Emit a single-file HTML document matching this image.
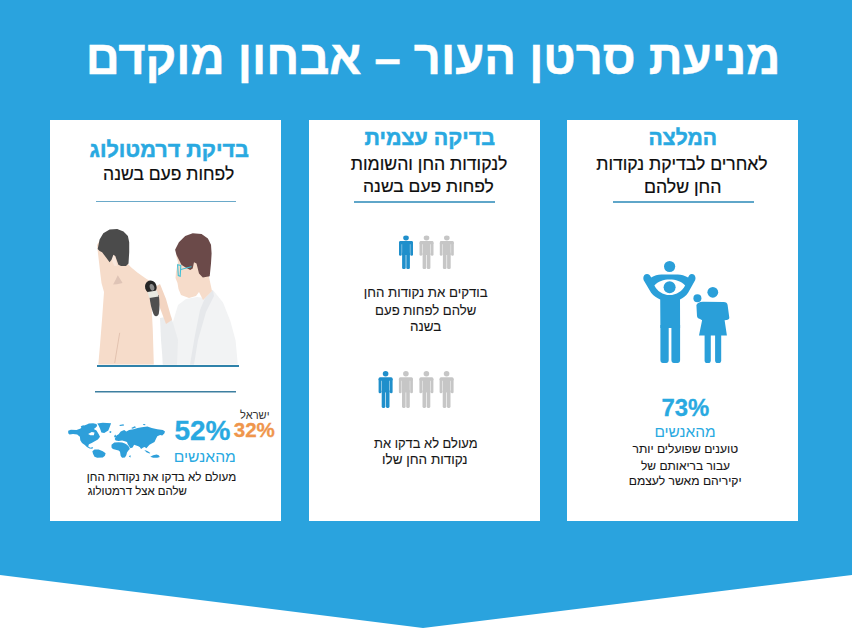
<!DOCTYPE html>
<html lang="he">
<head>
<meta charset="utf-8">
<title>מניעת סרטן העור</title>
<style>
html,body{margin:0;padding:0;}
body{width:852px;height:635px;position:relative;overflow:hidden;background:#fff;font-family:"Liberation Sans",sans-serif;}
.t{position:absolute;white-space:nowrap;line-height:1;direction:rtl;}
svg{position:absolute;left:0;top:0;}
</style>
</head>
<body>
<svg width="852" height="635" viewBox="0 0 852 635">
  <defs>
    <g id="man">
      <ellipse cx="7" cy="2.5" rx="2.8" ry="2.4"/>
      <rect x="0" y="5.6" width="14" height="3.2" rx="1.4"/>
      <rect x="0" y="6.5" width="2.7" height="13.8" rx="1.3"/>
      <rect x="11.3" y="6.5" width="2.7" height="13.8" rx="1.3"/>
      <rect x="3.1" y="6.5" width="7.8" height="13"/>
      <rect x="3.1" y="17" width="3.6" height="16.6" rx="1.3"/>
      <rect x="7.3" y="17" width="3.6" height="16.6" rx="1.3"/>
    </g>
  </defs>
  <polygon points="0,0 852,0 852,575 423,628 0,575" fill="#2AA3DE"/>
  <rect x="50" y="120" width="231" height="401" fill="#fff"/>
  <rect x="309" y="120" width="231" height="401" fill="#fff"/>
  <rect x="567" y="120" width="231" height="401" fill="#fff"/>
  <rect x="96" y="201" width="140" height="1" fill="#6aa9c9"/>
  <rect x="354" y="201" width="141" height="2" fill="#5fa6c9"/>
  <rect x="613" y="201" width="141" height="2" fill="#5fa6c9"/>
  <rect x="97" y="365" width="142" height="2" fill="#2f82aa"/>
  <rect x="95" y="391" width="141" height="1.5" fill="#3d7fa0"/>

  <!-- card 2 figures row 1 -->
  <use href="#man" transform="translate(399,235.5)" fill="#1F8FCB"/>
  <use href="#man" transform="translate(419.5,235.5)" fill="#C6C6C6"/>
  <use href="#man" transform="translate(439.8,235.5)" fill="#C6C6C6"/>
  <!-- row 2 -->
  <use href="#man" transform="translate(378.6,371) scale(1,1.1)" fill="#1F8FCB"/>
  <use href="#man" transform="translate(398.9,371) scale(1,1.1)" fill="#C6C6C6"/>
  <use href="#man" transform="translate(419.4,371) scale(1,1.1)" fill="#C6C6C6"/>
  <use href="#man" transform="translate(439.6,371) scale(1,1.1)" fill="#C6C6C6"/>

  <!-- family icon -->
  <g fill="#2A9FD9">
    <circle cx="669.6" cy="266.5" r="5.6"/>
    <path d="M643.3,278 C643.3,275.5 645,273.9 647,273.9 C649,273.9 650.5,275.5 651.1,277.4 C654.5,275.5 657.5,274.4 661.4,274.4 L677.7,274.4 C681.5,274.4 684.5,275.5 688.1,277.4 C688.7,275.5 690,273.9 691.8,273.9 C693.8,273.9 695.5,275.5 695.5,278 C695.5,279 695.3,279.6 695.1,280.2 L688.1,292.8 C686,296 683,298.3 680,299.4 L680.1,328 L660.4,328 L660.2,299.4 C657,298.3 653.5,296 651.1,292.8 L643.7,280.2 C643.5,279.6 643.3,279 643.3,278 Z"/>
    <path d="M660.4,325 L668.7,325 L668.7,360 C668.7,362 667.7,363 666.2,363 L662.9,363 C661.4,363 660.4,362 660.4,360 Z"/>
    <path d="M671.4,325 L680.1,325 L680.1,360 C680.1,362 679.1,363 677.6,363 L673.9,363 C672.4,363 671.4,362 671.4,360 Z"/>
    <!-- woman -->
    <circle cx="712.8" cy="292.3" r="5.4"/>
    <circle cx="697.4" cy="298.2" r="4"/>
    <path d="M696.4,305 C697,303 699.5,301.8 702.8,301.7 L723.7,302.1 C726,302.3 727.4,303.2 727.6,305 L729.3,317.5 C729.4,319 728.2,320 726.5,320.1 L724.6,320.2 L726.9,335.6 L699,335.6 L702.1,320.2 L700,319 C698,318.5 697.2,317.5 697,316 Z"/>
    <path d="M704.6,333 L710.8,333 L710.8,360.5 C710.8,362.2 709.8,363.1 708.3,363.1 L707.1,363.1 C705.6,363.1 704.6,362.2 704.6,360.5 Z"/>
    <path d="M715.1,333 L721.2,333 L721.2,360.5 C721.2,362.2 720.2,363.1 718.7,363.1 L717.6,363.1 C716.1,363.1 715.1,362.2 715.1,360.5 Z"/>
  </g>
  <path d="M654.4,285.4 C658,281.3 663.5,279.4 669.6,279.4 C675.7,279.4 681.5,281.3 685.1,285.4 C682.5,290.8 676.5,295 669.6,295 C662.7,295 657,290.8 654.4,285.4 Z" fill="#fff"/>
  <circle cx="669.6" cy="287.2" r="6" fill="#2A9FD9"/>
  <g fill="#2E9FDA">
<polygon points="68.2,430.8 70.9,429.8 76.5,429.9 80.6,428.4 82.0,426.3 86.9,424.6 88.9,423.5 93.1,423.2 96.5,423.9 97.2,426.0 95.2,428.0 93.8,429.1 96.5,430.5 98.6,433.9 100.0,436.7 97.9,439.5 95.2,440.9 91.7,442.9 88.9,444.3 88.2,446.4 90.3,447.8 93.1,447.1 92.4,448.8 89.6,448.5 86.9,447.1 84.8,445.0 82.0,442.9 80.3,440.2 79.9,436.7 77.2,434.6 73.0,433.9 69.5,434.6 68.2,433.2"/>
<polygon points="97.2,423.5 102.8,422.8 111.1,423.2 109.7,427.0 108.3,430.5 104.2,432.9 101.4,432.5 100.0,428.4 98.6,425.6"/>
<polygon points="92.4,451.2 94.5,449.5 98.6,449.5 102.8,451.2 105.6,453.3 104.9,455.7 102.8,457.5 97.2,457.8 94.5,456.8 93.1,454.0"/>
<polygon points="80.6,426.3 83.4,425.3 84.8,427.0 82.0,427.7"/>
<polygon points="118.6,434.2 120.7,431.4 124.2,430.0 126.3,431.4 129.1,430.0 133.4,429.3 137.6,427.9 141.8,427.2 147.4,426.5 151.7,427.9 157.3,429.3 162.9,430.0 165.0,431.4 164.3,433.5 162.2,435.6 160.1,434.9 157.3,436.3 155.9,439.1 154.5,441.9 151.7,443.4 149.5,444.8 148.1,446.2 146.4,448.3 144.6,446.9 143.2,447.6 141.1,449.0 139.7,446.9 138.3,446.2 136.2,445.5 134.1,444.8 132.6,447.6 130.5,448.3 129.1,446.2 127.7,444.1 127.0,441.9 124.9,441.2 122.1,440.5 118.6,440.9 115.7,440.5 114.7,439.1 115.7,437.0 116.5,435.6"/>
<polygon points="111.5,444.8 114.3,442.6 118.6,442.3 122.1,442.6 124.9,443.4 127.0,444.8 129.1,446.9 129.8,449.0 128.4,450.4 127.0,452.5 126.3,455.3 124.9,457.4 122.1,457.8 120.7,456.0 120.0,451.8 118.6,450.4 115.7,449.7 112.9,449.0 111.5,447.6"/>
<polygon points="150.3,456.7 153.1,455.3 156.6,454.6 158.7,455.3 159.8,457.1 157.3,457.8 153.1,457.8"/>
<polygon points="144.3,450.0 147.4,451.1 150.3,452.9 149.5,453.6 146.4,452.2"/>
<polygon points="128.8,456.4 130.4,455.0 130.7,457.4"/>
<polygon points="114.0,436.0 115.7,434.5 116.1,437.0 114.7,437.4"/>
<polygon points="119.3,425.0 123.5,424.2 124.1,425.5 120.0,425.9"/>
<polygon points="131.2,427.9 134.8,426.3 136.2,427.2 132.6,428.7"/>
<polygon points="142.9,424.2 145.3,424.0 145.2,425.2 143.2,425.0"/>
<polygon points="109.4,431.4 111.2,431.0 111.2,432.8 109.8,432.9"/>
<polygon fill="#fff" points="88.2,433.9 91.7,431.9 94.5,432.5 93.8,435.3 90.3,435.3"/>

  </g>
  <g id="doctor">
    <!-- patient skin -->
    <polygon fill="#F6DCCA" points="97,245 99,262 100.5,275 101.5,283 104,292 102,320 100,345 98.3,364.5 153.8,364.5 152.8,330 151.5,305 156,290 152.5,282.5 146.2,278.7 137.3,272.4 131,267.3 127,263 122,250 118,245 110,240 100,240"/>
    <polygon fill="#DFC4B6" points="117.8,275.2 122.6,283.1 117,284.2 113.1,284.6 116,279"/>
    <polygon fill="#F9E7DC" points="111.5,256 113.5,254.5 115.5,258 117,265.7 114.5,266 112.5,262"/>
    <line x1="114.7" y1="363" x2="119.7" y2="332.8" stroke="#DDBBA8" stroke-width="0.8"/>
    <!-- patient hair -->
    <polygon fill="#4B4B4B" points="97.7,249.1 99.6,239.6 103.3,233.3 109.6,229.6 117.2,228.9 123.5,231.4 127.9,235.9 129.2,242.2 129.2,252.2 128.5,263.6 126,266.1 121,266.1 118.4,264.8 116.6,259.8 115.3,256 113.4,254.7 111.5,259.8 109.6,262.3 105.9,257.3 102.1,252.2 99.6,251"/>
    <!-- coat -->
    <polygon fill="#F2F3F4" points="162.5,364.5 163,345 168,335 172,325 178,305 186,299 197,297 205,298 212.9,290 223,302.6 230.5,321.5 235.6,340.4 237.8,364.5"/>
    <polygon fill="#E6E8EB" points="205,298 212.9,290 214,296 206,312 198,340 194,364.5 190,364.5 195,335 200,310"/>
    <polygon fill="#EAECEE" points="160,318 171,316 178,340 177,364.5 163,364.5 161,340"/>
    <!-- forearm -->
    <polygon fill="#F3D5C2" points="155,287 160,284 166,299 172,320 166,324 160,308"/>
    <!-- doctor neck/face -->
    <polygon fill="#F6DCCA" points="176,255 178,262 176,272 175.5,278 177.5,283 178.5,289 181,295 189,298 196,296 199,292 203,300 212,291 209,277 209,270 200,262 190,262 182,258"/>
    <!-- doctor hair -->
    <polygon fill="#6B4A49" points="175.1,249.7 178.9,242.2 185.2,235.9 192.7,233.3 201.6,234 207.9,238.4 211,244.7 211.6,253.5 211,263.6 209.7,276.2 202.8,277.4 199,273.6 196.5,263.6 194,262.3 192.7,268.6 190.2,269.9 185.2,267.3 181.4,264.8 178.9,259.8 176.4,254.7"/>
    <!-- glasses -->
    <polygon fill="none" stroke="#3FC1D8" stroke-width="1.1" points="177.6,264.8 180.8,265.4 180.2,276.2 178.3,275.5"/>
    <line x1="180.8" y1="269.5" x2="191.5" y2="266.7" stroke="#3FC1D8" stroke-width="1"/>
    <!-- dermatoscope -->
    <path d="M149.5,296 L158.8,295 C159.6,301 159.8,308 158.8,313.5 C158.2,316.5 155.5,317 154,315 C152,311 150,303 149.5,296 Z" fill="#4F4F4F"/>
    <ellipse cx="150.8" cy="287" rx="5.8" ry="6.5" fill="#262626" transform="rotate(-18 150.8 287)"/>
    <ellipse cx="152" cy="287.3" rx="2.2" ry="3.4" fill="#8C8C8C" transform="rotate(-18 152 287.3)"/>
    <polygon fill="#E9E9E1" points="147.5,292 157,290.5 158.6,296.5 149.3,298"/>
  </g>

</svg>

<div class="t" style="left:85.70px;top:34.20px;font-size:47.09px;font-weight:bold;color:#ffffff;-webkit-text-stroke:0.5px #ffffff;">מניעת סרטן העור – אבחון מוקדם</div>
<div class="t" style="left:89.55px;top:138.80px;font-size:21.62px;font-weight:bold;color:#29A9E1;-webkit-text-stroke:0.5px #29A9E1;">בדיקת דרמטולוג</div>
<div class="t" style="left:103.05px;top:166.40px;font-size:17.53px;color:#0d0d0d;-webkit-text-stroke:0.2px #0d0d0d;">לפחות פעם בשנה</div>
<div class="t" style="left:364.50px;top:128.15px;font-size:21.44px;font-weight:bold;color:#29A9E1;-webkit-text-stroke:0.5px #29A9E1;">בדיקה עצמית</div>
<div class="t" style="left:350.85px;top:156.00px;font-size:17.64px;color:#0d0d0d;-webkit-text-stroke:0.2px #0d0d0d;">לנקודות החן והשומות</div>
<div class="t" style="left:363.05px;top:177.80px;font-size:17.47px;color:#0d0d0d;-webkit-text-stroke:0.2px #0d0d0d;">לפחות פעם בשנה</div>
<div class="t" style="left:648.60px;top:127.00px;font-size:21.08px;font-weight:bold;color:#29A9E1;-webkit-text-stroke:0.5px #29A9E1;">המלצה</div>
<div class="t" style="left:596.25px;top:155.85px;font-size:17.58px;color:#0d0d0d;-webkit-text-stroke:0.2px #0d0d0d;">לאחרים לבדיקת נקודות</div>
<div class="t" style="left:643.90px;top:178.95px;font-size:17.72px;color:#0d0d0d;-webkit-text-stroke:0.2px #0d0d0d;">החן שלהם</div>
<div class="t" style="left:240.10px;top:409.50px;font-size:11.06px;color:#333333;">ישראל</div>
<div class="t" style="left:174.40px;top:416.65px;font-size:28.00px;font-weight:bold;color:#29A9E1;-webkit-text-stroke:0.3px #29A9E1;">52%</div>
<div class="t" style="left:233.75px;top:419.65px;font-size:20.55px;font-weight:bold;color:#EF964C;-webkit-text-stroke:0.3px #EF964C;">32%</div>
<div class="t" style="left:173.75px;top:449.35px;font-size:15.66px;color:#29A9E1;">מהאנשים</div>
<div class="t" style="left:86.80px;top:470.90px;font-size:11.64px;color:#161616;-webkit-text-stroke:0.1px #161616;">מעולם לא בדקו את נקודות החן</div>
<div class="t" style="left:87.75px;top:485.50px;font-size:11.43px;color:#161616;-webkit-text-stroke:0.1px #161616;">שלהם אצל דרמטולוג</div>
<div class="t" style="left:363.80px;top:286.25px;font-size:13.26px;color:#161616;-webkit-text-stroke:0.1px #161616;">בודקים את נקודות החן</div>
<div class="t" style="left:375.10px;top:303.65px;font-size:13.14px;color:#161616;-webkit-text-stroke:0.1px #161616;">שלהם לפחות פעם</div>
<div class="t" style="left:410.10px;top:320.20px;font-size:13.43px;color:#161616;-webkit-text-stroke:0.1px #161616;">בשנה</div>
<div class="t" style="left:374.05px;top:438.15px;font-size:12.92px;color:#161616;-webkit-text-stroke:0.1px #161616;">מעולם לא בדקו את</div>
<div class="t" style="left:382.05px;top:453.00px;font-size:13.47px;color:#161616;-webkit-text-stroke:0.1px #161616;">נקודות החן שלו</div>
<div class="t" style="left:661.40px;top:396.20px;font-size:23.90px;font-weight:bold;color:#29A9E1;-webkit-text-stroke:0.3px #29A9E1;">73%</div>
<div class="t" style="left:654.45px;top:423.85px;font-size:15.45px;color:#29A9E1;">מהאנשים</div>
<div class="t" style="left:632.45px;top:443.45px;font-size:12.10px;color:#161616;-webkit-text-stroke:0.1px #161616;">טוענים שפועלים יותר</div>
<div class="t" style="left:641.00px;top:460.85px;font-size:11.97px;color:#161616;-webkit-text-stroke:0.1px #161616;">עבור בריאותם של</div>
<div class="t" style="left:628.70px;top:475.00px;font-size:12.11px;color:#161616;-webkit-text-stroke:0.1px #161616;">יקיריהם מאשר לעצמם</div>
</body>
</html>
